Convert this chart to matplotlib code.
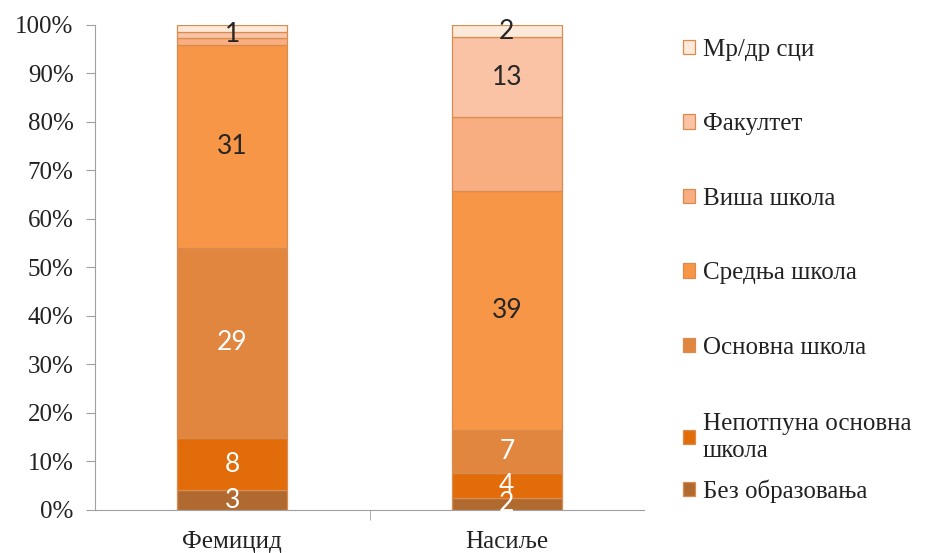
import matplotlib.pyplot as plt
import numpy as np

# categories and series (counts), bottom to top
groups = ["Фемицид", "Насиље"]
levels = ["Без образовања", "Непотпуна основна\nшкола", "Основна школа",
          "Средња школа", "Виша школа", "Факултет", "Мр/др сци"]
counts = {
    "Фемицид": [3, 8, 29, 31, 1, 1, 1],
    "Насиље": [2, 4, 7, 39, 12, 13, 2],
}
# label text shown on each segment ("" = not shown)
shown = {
    "Фемицид": ["3", "8", "29", "31", "", "1", ""],
    "Насиље": ["2", "4", "7", "39", "", "13", "2"],
}
colors = ["#B06A30", "#E36C0A", "#E0863F", "#F79646",
          "#F8AE80", "#FAC3A6", "#FDE9D9"]
text_colors = ["white", "white", "white", "#262626", "#262626", "#262626", "#262626"]

plt.rcParams['font.family'] = 'serif'
plt.rcParams['font.serif'] = ['Liberation Serif', 'DejaVu Serif']

fig = plt.figure(figsize=(9.3, 5.53), dpi=100)
ax = fig.add_axes([0.1022, 0.0778, 0.5903, 0.877])

x = np.arange(len(groups))
data = np.array([counts[g] for g in groups], dtype=float)
share = data / data.sum(axis=1, keepdims=True)
bottoms = np.zeros(len(groups))
handles = []
for j, lev in enumerate(levels):
    bars = ax.bar(x, share[:, j], 0.4, bottom=bottoms, color=colors[j],
                  edgecolor="#D98C50", linewidth=0.9, label=lev)
    handles.append(bars)
    for i, g in enumerate(groups):
        txt = shown[g][j]
        if txt:
            ax.text(x[i], bottoms[i] + share[i, j] / 2, txt, ha="center",
                    va="center", fontsize=19, color=text_colors[j],
                    family=["Lato", "DejaVu Sans"])
    bottoms += share[:, j]

ax.set_xlim(-0.5, 1.5)
ax.set_ylim(0, 1)
ax.set_yticks(np.arange(0, 1.01, 0.1))
ax.set_yticklabels([f"{int(round(v * 100))}%" for v in np.arange(0, 1.01, 0.1)],
                   fontsize=18, color="#222222")
ax.set_xticks(x)
ax.set_xticklabels(groups, fontsize=18, color="#222222")
ax.set_xticks([0.5], minor=True)
ax.tick_params(axis="x", which="major", length=0, pad=15)
ax.tick_params(axis="x", which="minor", length=7, color="#A0A0A0")
ax.tick_params(axis="y", length=6.5, color="#A0A0A0", pad=9)
for s in ["top", "right"]:
    ax.spines[s].set_visible(False)
for s in ["left", "bottom"]:
    ax.spines[s].set_color("#A0A0A0")

# legend in two blocks, to match the tighter spacing at the bottom
rev_h = handles[::-1]
rev_l = levels[::-1]
leg1 = ax.legend(rev_h[:5], rev_l[:5], loc="upper left",
                 bbox_to_anchor=(1.03, 1.018), frameon=False, fontsize=18,
                 labelspacing=2.1, handlelength=0.5, handleheight=0.5,
                 handletextpad=0.3)
ax.add_artist(leg1)
leg2 = ax.legend(rev_h[5:], rev_l[5:], loc="upper left",
                 bbox_to_anchor=(1.03, 0.247), frameon=False, fontsize=18,
                 labelspacing=0.7, handlelength=0.5, handleheight=0.5,
                 handletextpad=0.3)
for t in leg1.get_texts() + leg2.get_texts():
    t.set_color("#222222")
leg2.get_texts()[0].set_linespacing(1.3)

fig.savefig("out.png", dpi=100)
